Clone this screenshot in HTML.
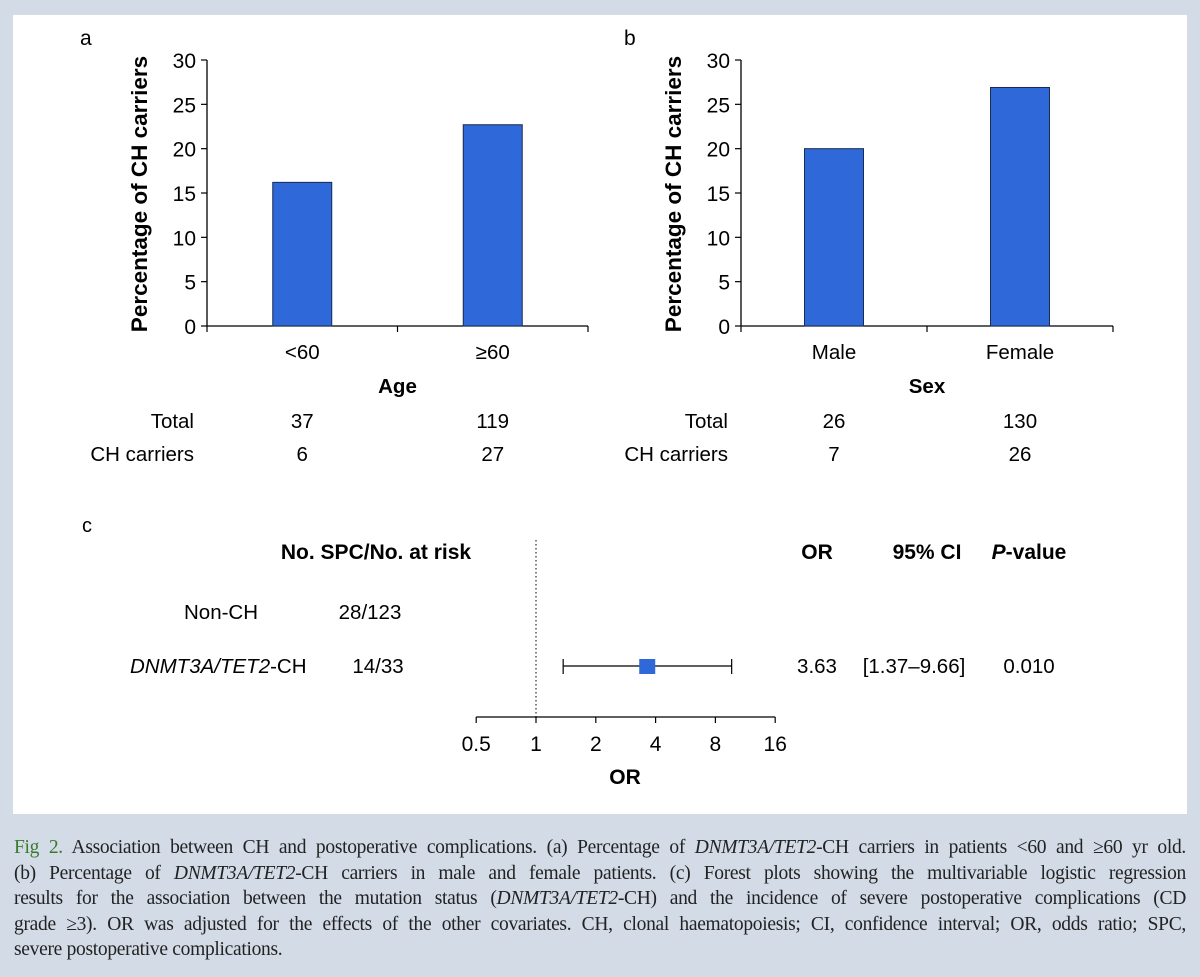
<!DOCTYPE html>
<html><head><meta charset="utf-8"><style>
body{margin:0;width:1200px;height:977px;background:#d3dbe7;position:relative;overflow:hidden;font-family:"Liberation Sans",sans-serif}
#panel{position:absolute;left:13px;top:15px;width:1174px;height:799px;background:#fff}
svg{position:absolute;left:0;top:0}
.cap{position:absolute;left:14px;width:1172px;font-family:"Liberation Serif",serif;font-size:19.5px;color:#222;text-align:justify;text-align-last:justify;white-space:nowrap;letter-spacing:-0.3px}
.cap i{font-style:italic}
</style></head><body>
<div id="panel"></div>
<svg id="fig" width="1200" height="820" font-family="Liberation Sans, sans-serif" fill="#000"></svg>
<div class="cap" style="top:837px"><span style="color:#3a7a2c">Fig 2.</span> Association between CH and postoperative complications. (a) Percentage of <i>DNMT3A/TET2</i>-CH carriers in patients &lt;60 and ≥60 yr old.</div>
<div class="cap" style="top:863px">(b) Percentage of <i>DNMT3A/TET2</i>-CH carriers in male and female patients. (c) Forest plots showing the multivariable logistic regression</div>
<div class="cap" style="top:888px">results for the association between the mutation status (<i>DNMT3A/TET2</i>-CH) and the incidence of severe postoperative complications (CD</div>
<div class="cap" style="top:914px">grade ≥3). OR was adjusted for the effects of the other covariates. CH, clonal haematopoiesis; CI, confidence interval; OR, odds ratio; SPC,</div>
<div class="cap" style="top:939px;text-align-last:left">severe postoperative complications.</div>
<script>
const ageCats=["<60","≥60"];
const ageValues=[16.2,22.7];
const ageTotals=["37","119"];
const ageCarriers=["6","27"];
const sexCats=["Male","Female"];
const sexValues=[20.0,26.9];
const sexTotals=["26","130"];
const sexCarriers=["7","26"];
const yTicks=[0,5,10,15,20,25,30];
const orTicks=[0.5,1,2,4,8,16];
const orTickLabels=["0.5","1","2","4","8","16"];
const forestRows=["Non-CH","DNMT3A/TET2-CH"];
const forestCounts=["28/123","14/33"];
const forestOR=[null,3.63];
const forestLo=[null,1.37];
const forestHi=[null,9.66];
const forestORtxt=["","3.63"];
const forestCItxt=["","[1.37–9.66]"];
const forestPtxt=["","0.010"];

const svg=document.getElementById('fig');
const NS='http://www.w3.org/2000/svg';
function mk(tag,attrs,txt){const e=document.createElementNS(NS,tag);for(const k in attrs)e.setAttribute(k,attrs[k]);if(txt!=null)e.textContent=txt;svg.appendChild(e);return e;}

function barPanel(x0,x1,cats,vals,totals,carriers,title,letter,letterX,key){
  const y0=326,y30=60;
  const ys=v=>y0-(v/30)*(y0-y30);
  const w=(x1-x0)/cats.length;
  let e=mk('text',{x:letterX,y:45,'font-size':21},letter);
  
  e=mk('line',{x1:x0,y1:y30,x2:x0,y2:y0,stroke:'#000','stroke-width':1.3});
  
  e=mk('line',{x1:x0,y1:y0,x2:x1,y2:y0,stroke:'#000','stroke-width':1.3});
  
  yTicks.forEach(t=>{
    e=mk('line',{x1:x0-6,y1:ys(t),x2:x0,y2:ys(t),stroke:'#000','stroke-width':1.2});
    
    e=mk('text',{x:x0-11,y:ys(t)+8,'font-size':21,'text-anchor':'end'},String(t));
    
  });
  for(let i=0;i<=cats.length;i++){
    e=mk('line',{x1:x0+i*w,y1:y0,x2:x0+i*w,y2:y0+6,stroke:'#000','stroke-width':1.2});
    
  }
  cats.forEach((c,i)=>{
    const cx=x0+w*(i+0.5);
    e=mk('rect',{x:cx-29.5,y:ys(vals[i]),width:59,height:y0-ys(vals[i]),fill:'#2f68d8',stroke:'#1a2a50','stroke-width':1});
    
    e=mk('text',{x:cx,y:359,'font-size':20.5,'text-anchor':'middle'},c);
    
    e=mk('text',{x:cx,y:428,'font-size':20.5,'text-anchor':'middle'},totals[i]);
    
    e=mk('text',{x:cx,y:461,'font-size':20.5,'text-anchor':'middle'},carriers[i]);
    
  });
  e=mk('text',{x:(x0+x1)/2,y:393,'font-size':20.5,'font-weight':'bold','text-anchor':'middle'},title);
  
  e=mk('text',{x:0,y:0,'font-size':22.5,'font-weight':'bold','text-anchor':'middle',transform:`translate(${x0-60},194) rotate(-90)`},'Percentage of CH carriers');
  
  e=mk('text',{x:x0-13,y:428,'font-size':20.5,'text-anchor':'end'},'Total');
  
  e=mk('text',{x:x0-13,y:461,'font-size':20.5,'text-anchor':'end'},'CH carriers');
  
}
barPanel(207,588,ageCats,ageValues,ageTotals,ageCarriers,'Age','a',80,'age');
barPanel(741,1113,sexCats,sexValues,sexTotals,sexCarriers,'Sex','b',624,'sex');

// forest plot
const ox=v=>536+59.8*Math.log2(v);
const axY=717;
let e=mk('text',{x:82,y:532,'font-size':20},'c');

e=mk('line',{x1:ox(1),y1:540,x2:ox(1),y2:axY,stroke:'#000','stroke-width':1,'stroke-dasharray':'1.5,2.5'});

e=mk('line',{x1:ox(orTicks[0]),y1:axY,x2:ox(orTicks[orTicks.length-1]),y2:axY,stroke:'#000','stroke-width':1.3});

orTicks.forEach((t,i)=>{
  e=mk('line',{x1:ox(t),y1:axY,x2:ox(t),y2:axY+6,stroke:'#000','stroke-width':1.2});
  
  e=mk('text',{x:ox(t),y:751,'font-size':21,'text-anchor':'middle'},orTickLabels[i]);
  
});
e=mk('text',{x:625,y:784,'font-size':21,'font-weight':'bold','text-anchor':'middle'},'OR');

[['No. SPC/No. at risk',376],['OR',817],['95% CI',927]].forEach(([t,x])=>{
  e=mk('text',{x:x,y:559,'font-size':21,'font-weight':'bold','text-anchor':'middle'},t);
  
});
e=mk('text',{x:1029,y:559,'font-size':21,'font-weight':'bold','text-anchor':'middle'});
e.innerHTML='<tspan font-style="italic">P</tspan>-value';

const rowY=[612,666];
forestRows.forEach((r,i)=>{
  const y=rowY[i];
  e=mk('text',{x:i==0?184:130,y:y+7,'font-size':20.5,'text-anchor':i==0?'start':'start'});
  if(i==0){e.textContent=r;e.setAttribute('x',184);}else e.innerHTML='<tspan font-style="italic">DNMT3A/TET2</tspan>-CH';
  
  e=mk('text',{x:i==0?370:378,y:y+7,'font-size':20.5,'text-anchor':'middle'},forestCounts[i]);
  
  if(forestOR[i]!=null){
    e=mk('line',{x1:ox(forestLo[i]),y1:y,x2:ox(forestHi[i]),y2:y,stroke:'#000','stroke-width':1.2});
    
    [forestLo[i],forestHi[i]].forEach(v=>{
      e=mk('line',{x1:ox(v),y1:y-7,x2:ox(v),y2:y+8,stroke:'#000','stroke-width':1.2});
      
    });
    e=mk('rect',{x:ox(forestOR[i])-8,y:y-7,width:16,height:15,fill:'#2f68d8'});
    
  }
  e=mk('text',{x:817,y:y+7,'font-size':20.5,'text-anchor':'middle'},forestORtxt[i]);
  
  e=mk('text',{x:914,y:y+7,'font-size':20.5,'text-anchor':'middle'},forestCItxt[i]);
  
  e=mk('text',{x:1029,y:y+7,'font-size':20.5,'text-anchor':'middle'},forestPtxt[i]);
  
});
</script>
</body></html>
